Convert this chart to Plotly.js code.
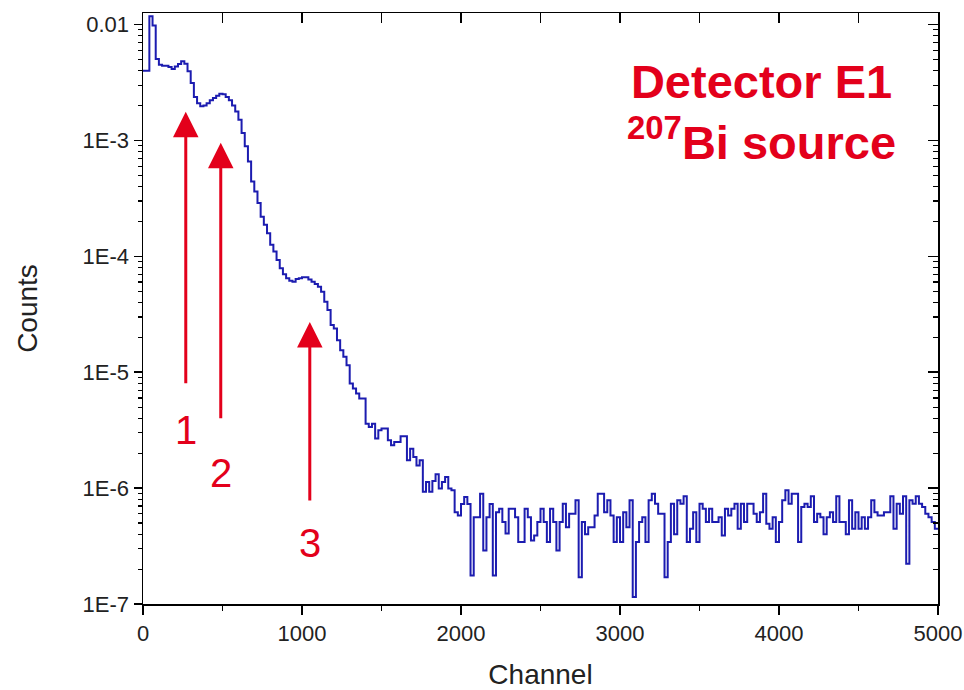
<!DOCTYPE html>
<html><head><meta charset="utf-8">
<script src="https://cdn.plot.ly/plotly-3.0.1.min.js"></script>
<style>html,body{margin:0;padding:0;background:#fff}#chart{width:964px;height:690px}</style>
</head><body><div id="chart"></div><script>
// Histogram: bin width in channels, counts per bin
const binWidth = 20;
const counts = [
 4.0e-3,4.0e-3,1.18e-2,9.8e-3,5.05e-3,4.51e-3,4.42e-3,4.42e-3,4.3e-3,4.14e-3,
 4.35e-3,4.57e-3,4.82e-3,4.6e-3,3.95e-3,3.13e-3,2.37e-3,2.1e-3,1.97e-3,2.0e-3,
 2.1e-3,2.22e-3,2.32e-3,2.43e-3,2.53e-3,2.5e-3,2.37e-3,2.22e-3,2.0e-3,1.78e-3,
 1.51e-3,1.16e-3,8.9e-4,6.6e-4,4.42e-4,3.63e-4,2.88e-4,2.2e-4,1.87e-4,1.58e-4,
 1.26e-4,1.10e-4,9.3e-5,7.9e-5,7.0e-5,6.46e-5,6.17e-5,6.05e-5,6.38e-5,6.46e-5,
 6.6e-5,6.6e-5,6.3e-5,6.05e-5,5.78e-5,5.47e-5,4.95e-5,4.06e-5,3.44e-5,2.55e-5,
 2.39e-5,1.89e-5,1.55e-5,1.36e-5,1.15e-5,8.0e-6,7.24e-6,6.56e-6,5.93e-6,5.93e-6,
 3.6e-6,3.37e-6,3.6e-6,2.68e-6,3.16e-6,3.27e-6,3.27e-6,2.59e-6,2.34e-6,2.5e-6,
 2.5e-6,2.8e-6,2.8e-6,1.74e-6,2.19e-6,1.86e-6,1.57e-6,1.74e-6,9.3e-7,1.13e-6,
 9.3e-7,1.15e-6,1.32e-6,9.9e-7,1.13e-6,1.25e-6,9.9e-7,9.6e-7,6.2e-7,5.8e-7,
 7.3e-7,8.4e-7,7.3e-7,1.76e-7,5.6e-7,5.6e-7,8.95e-7,2.9e-7,5.6e-7,7.3e-7,
 1.76e-7,6.2e-7,6.65e-7,5.1e-7,4.05e-7,6.65e-7,6.65e-7,5.6e-7,3.42e-7,3.42e-7,
 6.65e-7,5.6e-7,3.54e-7,3.9e-7,5.1e-7,6.65e-7,5.1e-7,3.42e-7,6.65e-7,5.1e-7,
 2.9e-7,5.1e-7,7.34e-7,4.6e-7,6.0e-7,6.0e-7,7.85e-7,1.7e-7,5.1e-7,4.0e-7,
 4.6e-7,4.6e-7,5.8e-7,8.95e-7,8.95e-7,6.2e-7,7.85e-7,5.8e-7,3.42e-7,5.6e-7,
 3.42e-7,6.2e-7,4.6e-7,7.85e-7,1.15e-7,3.42e-7,5.1e-7,5.6e-7,3.42e-7,7.85e-7,
 8.95e-7,7.34e-7,6.0e-7,6.0e-7,1.7e-7,3.42e-7,7.34e-7,4.0e-7,7.85e-7,7.34e-7,
 8.5e-7,3.42e-7,4.47e-7,6.2e-7,3.42e-7,7.34e-7,6.65e-7,5.1e-7,6.65e-7,5.1e-7,
 5.1e-7,5.6e-7,3.9e-7,6.65e-7,5.8e-7,6.65e-7,7.34e-7,4.47e-7,7.34e-7,5.1e-7,
 7.34e-7,7.34e-7,6.0e-7,5.1e-7,6.2e-7,8.95e-7,4.93e-7,4.47e-7,5.6e-7,3.42e-7,
 5.1e-7,7.85e-7,9.57e-7,7.34e-7,8.95e-7,8.95e-7,3.42e-7,6.87e-7,7.34e-7,6.87e-7,
 8.5e-7,5.1e-7,6.0e-7,5.6e-7,4.0e-7,5.6e-7,6.2e-7,5.1e-7,8.5e-7,5.1e-7,
 5.1e-7,4.0e-7,7.85e-7,4.47e-7,6.2e-7,4.47e-7,5.6e-7,4.47e-7,5.6e-7,7.85e-7,
 6.2e-7,5.8e-7,5.8e-7,6.2e-7,6.2e-7,8.5e-7,4.47e-7,7.34e-7,6.0e-7,8.5e-7,
 2.22e-7,7.85e-7,7.34e-7,8.5e-7,7.34e-7,6.87e-7,6.0e-7,5.6e-7,5.1e-7,4.47e-7
];
const xTickValues = [0, 1000, 2000, 3000, 4000, 5000];
const yTickValues = [1e-7, 1e-6, 1e-5, 1e-4, 1e-3, 1e-2];
const yTickLabels = ['1E-7', '1E-6', '1E-5', '1E-4', '1E-3', '0.01'];
const peakLabels = ['1', '2', '3'];
const peakChannels = [269, 489, 1049];

// bin edges (left edges + closing edge)
const edges = counts.map((_, i) => i * binWidth);
edges.push(counts.length * binWidth);
const ys = counts.slice();
ys.push(counts[counts.length - 1]);

const red = '#e3001b';
const blue = '#1c1cb0';
const font = 'Liberation Sans, Arial, sans-serif';

const main = {x: edges, y: ys, type: 'scatter', mode: 'lines',
  line: {shape: 'hv', color: blue, width: 2}, hoverinfo: 'skip', showlegend: false};
const mirror = {x: edges, y: ys, type: 'scatter', mode: 'lines', xaxis: 'x2', yaxis: 'y2',
  opacity: 0, line: {shape: 'hv', width: 0.1}, hoverinfo: 'skip', showlegend: false};

// arrow tips (log10 of counts), label offsets below the tip (px), gap before the arrow tail
const arrowTips = [-2.752, -3.02, -4.567];
const labelOffsets = [318, 330, 221];
const tailGaps = [23, 31, 19];

const annotations = [];
peakChannels.forEach((c, i) => {
  annotations.push({x: c, y: arrowTips[i], xref: 'x', yref: 'y', ax: 0, ay: labelOffsets[i],
    axref: 'pixel', ayref: 'pixel', showarrow: true, arrowhead: 2, arrowsize: 1.7,
    arrowwidth: 3, arrowcolor: red, standoff: 0, startstandoff: tailGaps[i],
    text: peakLabels[i], font: {family: font, size: 40, color: red}});
});
annotations.push({x: 0.778, y: 0.933, xref: 'paper', yref: 'paper', xanchor: 'center', yanchor: 'top',
  align: 'center', showarrow: false,
  text: '<b>Detector E1</b><br><b><sup>207</sup>Bi source</b>',
  font: {family: font, size: 47, color: red}});

const tickFont = {family: font, size: 22, color: '#222'};
const layout = {
  width: 964, height: 690,
  margin: {l: 143, r: 26, t: 13, b: 86},
  paper_bgcolor: '#fff', plot_bgcolor: '#fff',
  showlegend: false,
  xaxis: {range: [0, 5000], tickmode: 'array', tickvals: xTickValues,
    ticks: 'outside', ticklen: 9, tickwidth: 1.5, tickcolor: '#000',
    minor: {tickmode: 'linear', tick0: 0, dtick: 500, ticks: 'outside', ticklen: 5, tickwidth: 1.5, tickcolor: '#000'},
    showline: true, linecolor: '#000', linewidth: 1.5, showgrid: false, zeroline: false,
    tickfont: tickFont,
    title: {text: 'Channel', font: {family: font, size: 28, color: '#222'}, standoff: 20}},
  yaxis: {type: 'log', range: [-7, -1.9], tickmode: 'array', tickvals: yTickValues, ticktext: yTickLabels,
    ticks: 'outside', ticklen: 8, tickwidth: 1.5, tickcolor: '#000',
    minor: {dtick: 'D1', ticks: 'outside', ticklen: 4, tickwidth: 1.2, tickcolor: '#000'},
    showline: true, linecolor: '#000', linewidth: 1.5, showgrid: false, zeroline: false,
    tickfont: tickFont,
    title: {text: 'Counts', font: {family: font, size: 28, color: '#222'}, standoff: 37}},
  xaxis2: {overlaying: 'x', side: 'top', anchor: 'y', range: [0, 5000], tickmode: 'array', tickvals: xTickValues,
    ticks: 'inside', ticklen: 10, tickwidth: 1.5, tickcolor: '#000',
    minor: {tickmode: 'linear', tick0: 0, dtick: 500, ticks: 'inside', ticklen: 10, tickwidth: 1.5, tickcolor: '#000'},
    showticklabels: false, showline: true, linecolor: '#000', linewidth: 1.5, showgrid: false, zeroline: false},
  yaxis2: {overlaying: 'y', side: 'right', anchor: 'x', type: 'log', range: [-7, -1.9],
    tickmode: 'array', tickvals: yTickValues,
    ticks: 'inside', ticklen: 10, tickwidth: 1.5, tickcolor: '#000',
    minor: {dtick: 'D1', ticks: 'inside', ticklen: 5, tickwidth: 1.2, tickcolor: '#000'},
    showticklabels: false, showline: true, linecolor: '#000', linewidth: 1.5, showgrid: false, zeroline: false},
  annotations: annotations
};
Plotly.newPlot('chart', [main, mirror], layout, {displayModeBar: false, staticPlot: true});
</script></body></html>
